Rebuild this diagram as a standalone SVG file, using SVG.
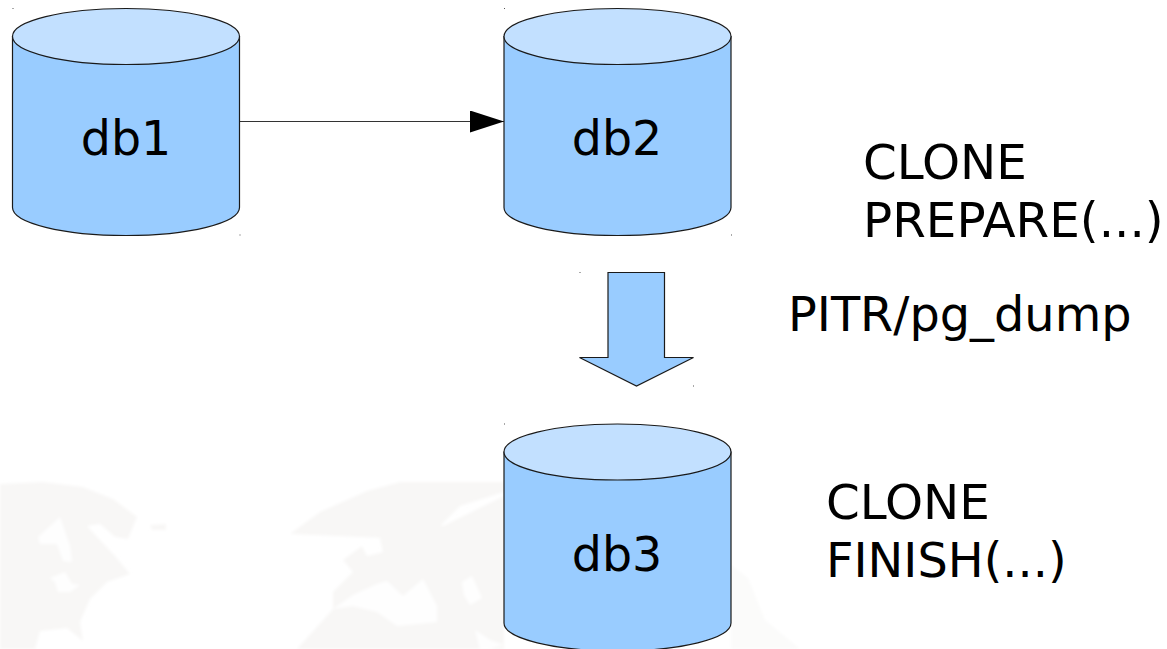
<svg xmlns="http://www.w3.org/2000/svg" width="1167" height="649" viewBox="0 0 1167 649">
<style>
.body{fill:#99ccff;stroke:#1a1a1a;stroke-width:1.2}
.top{fill:#c2e0ff;stroke:#1a1a1a;stroke-width:1.2}
.lbl{font-family:"DejaVu Sans",sans-serif;font-size:47.500px;fill:#000}
.wide{font-size:48.400px}
.mid{font-size:47.800px}
.land{fill:#f8f7f6;stroke:none}
.faint{fill:#fbfbfa;stroke:none}
.hole{fill:#fefefe;stroke:none}
.tick{fill:#555;stroke:none}
</style>
<defs>
<filter id="soft" x="-5%" y="-5%" width="110%" height="110%"><feGaussianBlur stdDeviation="1.500"/></filter>
<marker id="ah" markerUnits="userSpaceOnUse" markerWidth="34" markerHeight="22" refX="34" refY="11" orient="auto"><path d="M0 0L34 11L0 22Z" fill="#000"/></marker>
<g id="cyl">
<path class="body" d="M0 28V199C0 214.500 50.800 227 113.500 227S227 214.500 227 199V28Z"/>
<ellipse class="top" cx="113.500" cy="28" rx="113.500" ry="28"/>
</g>
</defs>
<rect width="1167" height="649" fill="#fff"/>
<g id="background" filter="url(#soft)">
<path class="land" d="M0 484L43 482L83 487L113 499L137 517L128 539L115 537L100 524L87 526L115 556L130 574L107 582L90 599L80 622L83 641L67 628L40 631L35 649H0Z"/>
<path class="hole" d="M38 537L60 517L70 546L72 562L63 561L57 544L40 544Z"/>
<path class="hole" d="M50 578L65 572L72 584L80 585L70 592L58 592L55 582Z"/>
<path class="land" d="M150 525L166 524L166 530L152 530Z"/>
<path class="land" d="M290 534L320 512L367 491L400 482L504 482V492L460 506L440 526L410 517L383 538Z"/>
<path class="land" d="M380 539L407 517L417 514L443 526L504 496V649H297L333 609L333 592L353 572L343 560L362 546L367 556L383 552Z"/>
<path class="hole" d="M333 609L353 595L377 584L387 581L403 596L423 579L437 606L437 622L397 626L377 612L353 606Z"/>
<path class="hole" d="M462 582L472 576L482 598L470 605L464 595Z"/>
<path class="hole" d="M475 630L490 640L504 645L490 649H480Z"/>
<path class="faint" d="M731 565L748 578L765 620L800 649H731Z"/>
</g>
<g id="connectors">
<line x1="240" y1="121.500" x2="504" y2="121.500" stroke="#333" stroke-width="1.200" marker-end="url(#ah)"/>
</g>
<g id="db1"><use href="#cyl" x="12.500" y="8.500"/><text class="lbl" x="126" y="155" text-anchor="middle">db1</text></g>
<g id="db2"><use href="#cyl" x="504" y="8.500"/><text class="lbl" x="617" y="155" text-anchor="middle">db2</text></g>
<g id="db3"><use href="#cyl" x="504" y="424"/><text class="lbl" x="617" y="571" text-anchor="middle">db3</text></g>
<g id="flow-arrow"><path class="body" d="M608 272.500H664.500V357.500H693.500L636.500 386L579.500 357.500H608Z"/></g>
<g id="labels">
<text class="lbl wide" x="863" y="179">CLONE</text>
<text class="lbl wide" x="863" y="237">PREPARE(...)</text>
<text class="lbl mid" x="788" y="331">PITR/pg_dump</text>
<text class="lbl wide" x="826" y="519">CLONE</text>
<text class="lbl mid" x="826" y="577">FINISH(...)</text>
</g>
<g id="ticks">
<rect class="tick" x="12.500" y="8" width="1" height="1"/>
<rect class="tick" x="239.500" y="234.500" width="1" height="1"/>
<rect class="tick" x="504" y="8" width="1" height="1"/>
<rect class="tick" x="731" y="234.500" width="1" height="1"/>
<rect class="tick" x="579.500" y="272" width="1" height="1"/>
<rect class="tick" x="693" y="385.500" width="1" height="1"/>
<rect class="tick" x="504" y="423.500" width="1" height="1"/>
</g>
</svg>
